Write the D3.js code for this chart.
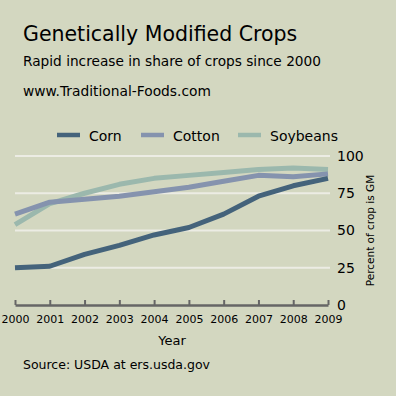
<!DOCTYPE html>
<html>
<head>
<meta charset="utf-8">
<script src="https://cdn.jsdelivr.net/npm/d3@7"></script>
<style>
  body { margin: 0; background: #d3d7c0; }
  svg { display: block; font-family: "DejaVu Sans", Verdana, sans-serif; }
  .grid line { stroke: #ecece4; stroke-width: 2; }
</style>
</head>
<body>
<script>
var years = [2000, 2001, 2002, 2003, 2004, 2005, 2006, 2007, 2008, 2009];
var corn = [25, 26, 34, 40, 47, 52, 61, 73, 80, 85];
var cotton = [61, 69, 71, 73, 76, 79, 83, 87, 86, 88];
var soybeans = [54, 68, 75, 81, 85, 87, 89, 91, 92, 91];
var yTicks = [0, 25, 50, 75, 100];
var seriesNames = ["Corn", "Cotton", "Soybeans"];
var seriesColors = ["#44637b", "#8593ae", "#9bb8ad"];

function init() {
    var w = 396;
    var h = 396;

    var svg = d3.select("body").append("svg")
        .attr("width", w)
        .attr("height", h);

    var xScale = d3.scaleLinear()
        .domain([2000, 2009])
        .range([15, 328]);

    var yScale = d3.scaleLinear()
        .domain([0, 100])
        .range([305, 156]);

    // titles
    svg.append("text").attr("x", 23).attr("y", 41)
        .style("font-size", "20.5px").text("Genetically Modified Crops");
    svg.append("text").attr("x", 23).attr("y", 66)
        .style("font-size", "13.7px").text("Rapid increase in share of crops since 2000");
    svg.append("text").attr("x", 23).attr("y", 96)
        .style("font-size", "13.8px").text("www.Traditional-Foods.com");

    // gridlines
    svg.append("g").attr("class", "grid")
        .selectAll("line")
        .data(yTicks.filter(function(d) { return d > 0; }))
        .enter().append("line")
        .attr("x1", xScale(2000))
        .attr("x2", xScale(2009) + 2)
        .attr("y1", function(d) { return yScale(d); })
        .attr("y2", function(d) { return yScale(d); });

    // lines
    var data = [corn, cotton, soybeans];
    var line = d3.line()
        .x(function(d, i) { return xScale(years[i]); })
        .y(function(d) { return yScale(d); });

    // draw soybeans first, corn on top
    [2, 1, 0].forEach(function(k) {
        svg.append("path")
            .datum(data[k])
            .attr("fill", "none")
            .attr("stroke", seriesColors[k])
            .attr("stroke-width", 5)
            .attr("stroke-linejoin", "round")
            .attr("d", line);
    });

    // x axis
    var xAxis = d3.axisBottom(xScale)
        .tickValues(years)
        .tickFormat(d3.format("d"))
        .tickSize(-5)
        .tickSizeOuter(0)
        .tickPadding(10);
    var gx = svg.append("g")
        .attr("transform", "translate(0," + yScale(0) + ")")
        .call(xAxis);
    gx.select(".domain").attr("stroke", "#666").attr("stroke-width", 2.5);
    gx.selectAll(".tick line").attr("stroke", "#666").attr("stroke-width", 2);
    gx.selectAll(".tick text")
        .attr("fill", "#000")
        .style("font-size", "11px")
        .style("font-family", "DejaVu Sans, Verdana, sans-serif");

    // y axis on right
    var yAxis = d3.axisRight(yScale)
        .tickValues(yTicks)
        .tickSize(0)
        .tickPadding(9);
    var gy = svg.append("g")
        .attr("transform", "translate(328,0)")
        .call(yAxis);
    gy.select(".domain").remove();
    gy.selectAll(".tick text")
        .attr("fill", "#000")
        .style("font-size", "14px")
        .style("font-family", "DejaVu Sans, Verdana, sans-serif");

    svg.append("text")
        .attr("transform", "translate(374," + yScale(50) + ") rotate(-90)")
        .attr("text-anchor", "middle")
        .style("font-size", "10.5px")
        .text("Percent of crop is GM");

    svg.append("text")
        .attr("x", 172).attr("y", 345)
        .attr("text-anchor", "middle")
        .style("font-size", "13px")
        .text("Year");

    svg.append("text")
        .attr("x", 23).attr("y", 369)
        .style("font-size", "12.5px")
        .text("Source: USDA at ers.usda.gov");

    // legend
    var legendX = [57, 141, 238];
    var legend = svg.append("g");
    seriesNames.forEach(function(name, i) {
        legend.append("line")
            .attr("x1", legendX[i]).attr("x2", legendX[i] + 23)
            .attr("y1", 135).attr("y2", 135)
            .attr("stroke", seriesColors[i])
            .attr("stroke-width", 4.5);
        legend.append("text")
            .attr("x", legendX[i] + 32).attr("y", 140.5)
            .style("font-size", "14px")
            .text(name);
    });
}

window.onload = init;
</script>
</body>
</html>
